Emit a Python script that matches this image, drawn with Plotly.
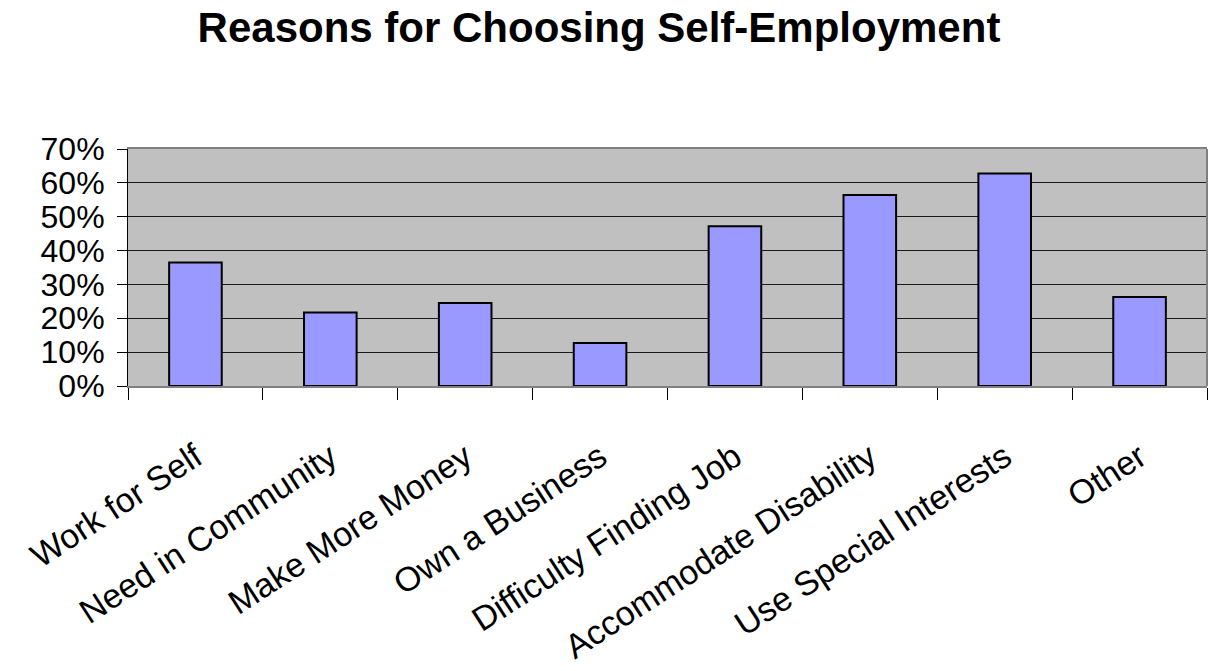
import plotly.graph_objects as go

categories = ["Work for Self", "Need in Community", "Make More Money", "Own a Business",
              "Difficulty Finding Job", "Accommodate Disability", "Use Special Interests", "Other"]
values = [0.365, 0.217, 0.245, 0.127, 0.472, 0.564, 0.628, 0.263]
y_ticks = [0, 0.1, 0.2, 0.3, 0.4, 0.5, 0.6, 0.7]
y_tick_labels = ["0%", "10%", "20%", "30%", "40%", "50%", "60%", "70%"]

fig = go.Figure(go.Bar(
    x=categories, y=values,
    marker=dict(color="#9999FF", line=dict(color="black", width=2)),
))

fig.update_layout(
    width=1208, height=671,
    margin=dict(l=128, r=1, t=149, b=285, autoexpand=False),
    paper_bgcolor="white", plot_bgcolor="#C0C0C0",
    bargap=0.61,
    showlegend=False,
    font=dict(family="Liberation Sans, Arial, sans-serif", color="black"),
    title=dict(text="<b>Reasons for Choosing Self-Employment</b>",
               font=dict(size=42, family="Liberation Sans, Arial, sans-serif", color="black"),
               x=599 / 1208, xanchor="center", xref="container",
               y=1 - 27 / 671, yanchor="middle", yref="container"),
    shapes=[dict(type="line", xref="paper", yref="paper", x0=1, x1=1, y0=0, y1=1,
                 line=dict(color="#808080", width=2))],
)

fig.update_xaxes(
    type="category", tickson="boundaries", ticks="outside", ticklen=12, tickcolor="black",
    tickangle=-33, tickfont=dict(size=34), ticklabelstandoff=36, automargin=False,
    showline=True, linecolor="#808080", linewidth=2, mirror=True,
    showgrid=False,
)
fig.update_yaxes(
    range=[0, 0.7], tickvals=y_ticks, ticktext=y_tick_labels, automargin=False,
    ticks="outside", ticklen=10, tickcolor="black", tickfont=dict(size=32),
    ticklabelstandoff=6,
    showline=True, linecolor="black", linewidth=1, mirror=False,
    showgrid=True, gridcolor="#1a1a1a", gridwidth=1, zeroline=False,
)

fig.write_html("out.html")
